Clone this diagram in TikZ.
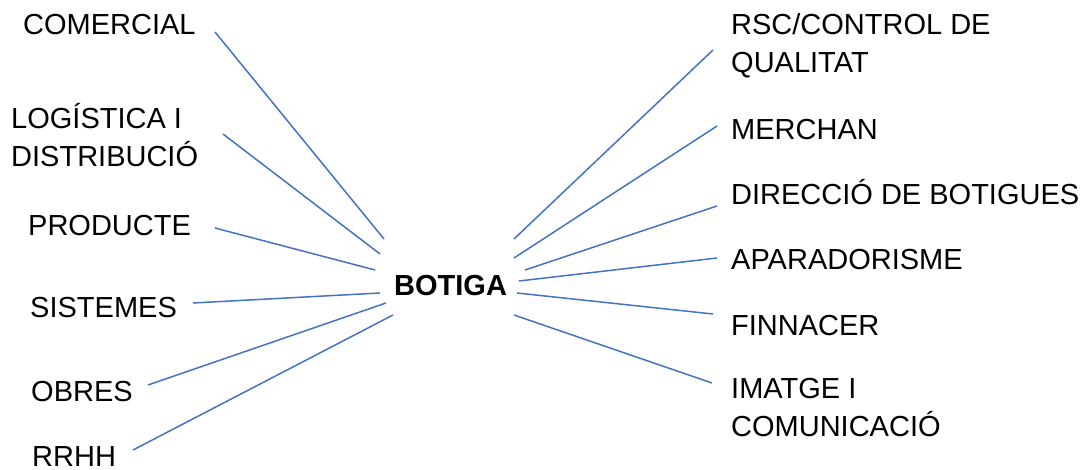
\documentclass[tikz,border=0pt]{standalone}
\usepackage{fontspec}
\setmainfont{Liberation Sans}
\usepackage{xcolor}
\definecolor{linkblue}{HTML}{4472C4}

\begin{document}
\begin{tikzpicture}[x=1pt,y=-1pt,
    label/.style={inner sep=0pt,anchor=base west,align=left,font={\fontsize{29}{38}\selectfont}},
    link/.style={draw=linkblue,line width=1.5pt}]
    \useasboundingbox (0,0) rectangle (1088,470);

    % centre
    \node[label,font={\fontsize{29}{38}\selectfont\bfseries}] (botiga) at (394,296) {BOTIGA};

    % left side (base = last line)
    \node[label] (comercial) at (23,35) {COMERCIAL};
    \node[label] (logistica) at (11,167) {LOGÍSTICA I\\DISTRIBUCIÓ};
    \node[label] (producte) at (28,236) {PRODUCTE};
    \node[label] (sistemes) at (30,318) {SISTEMES};
    \node[label] (obres) at (31,402) {OBRES};
    \node[label] (rrhh) at (32,467) {RRHH};

    % right side
    \node[label] (rsc) at (731,73) {RSC/CONTROL DE\\QUALITAT};
    \node[label] (merchan) at (731,140) {MERCHAN};
    \node[label] (direccio) at (731,205) {DIRECCIÓ DE BOTIGUES};
    \node[label] (aparadorisme) at (731,270) {APARADORISME};
    \node[label] (finnacer) at (731,336) {FINNACER};
    \node[label] (imatge) at (731,437) {IMATGE I\\COMUNICACIÓ};

    % line ends
    \coordinate (comercial-a) at (215,32);
    \coordinate (comercial-b) at (384,239);
    \coordinate (logistica-a) at (223,134);
    \coordinate (logistica-b) at (380,254);
    \coordinate (producte-a) at (215,228);
    \coordinate (producte-b) at (375,270);
    \coordinate (sistemes-a) at (193,303);
    \coordinate (sistemes-b) at (380,293);
    \coordinate (obres-a) at (148,385);
    \coordinate (obres-b) at (386,303);
    \coordinate (rrhh-a) at (133,450);
    \coordinate (rrhh-b) at (393,315);

    \coordinate (rsc-a) at (713,50);
    \coordinate (rsc-b) at (514,239);
    \coordinate (merchan-a) at (717,126);
    \coordinate (merchan-b) at (514,258);
    \coordinate (direccio-a) at (717,206);
    \coordinate (direccio-b) at (525,270);
    \coordinate (aparadorisme-a) at (717,258);
    \coordinate (aparadorisme-b) at (519,281);
    \coordinate (finnacer-a) at (713,314);
    \coordinate (finnacer-b) at (517,293);
    \coordinate (imatge-a) at (712,383);
    \coordinate (imatge-b) at (514,315);

    \draw[link] (comercial-a) -- (comercial-b);
    \draw[link] (logistica-a) -- (logistica-b);
    \draw[link] (producte-a) -- (producte-b);
    \draw[link] (sistemes-a) -- (sistemes-b);
    \draw[link] (obres-a) -- (obres-b);
    \draw[link] (rrhh-a) -- (rrhh-b);

    \draw[link] (rsc-a) -- (rsc-b);
    \draw[link] (merchan-a) -- (merchan-b);
    \draw[link] (direccio-a) -- (direccio-b);
    \draw[link] (aparadorisme-a) -- (aparadorisme-b);
    \draw[link] (finnacer-a) -- (finnacer-b);
    \draw[link] (imatge-a) -- (imatge-b);

\end{tikzpicture}
\end{document}
